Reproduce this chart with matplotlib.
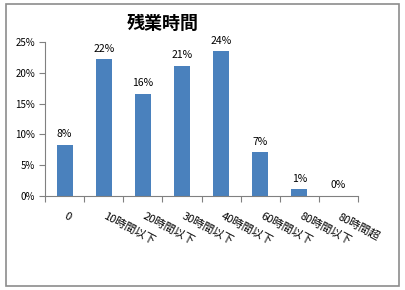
import matplotlib
matplotlib.use("Agg")
import matplotlib.pyplot as plt
import matplotlib.transforms as mtransforms
from matplotlib.patches import Rectangle
import numpy as np

plt.rcParams['font.family'] = ['Noto Sans CJK JP', 'DejaVu Sans']

categories = ['0', '10時間以下', '20時間以下', '30時間以下', '40時間以下',
              '60時間以下', '80時間以下', '80時間超']
values = [8.3, 22.2, 16.6, 21.1, 23.5, 7.1, 1.1, 0.0]
value_labels = ['8%', '22%', '16%', '21%', '24%', '7%', '1%', '0%']
title = '残業時間'


def main():
    fig = plt.figure(figsize=(4.05, 2.9), dpi=100)
    fig.patches.append(Rectangle((6 / 405, 4 / 290), 393 / 405, 282 / 290,
                                 transform=fig.transFigure, fill=False,
                                 edgecolor='#8c8c8c', linewidth=1.2))
    ax = fig.add_axes([45 / 405, 1 - 196 / 290, 313 / 405, 154 / 290])
    x = np.arange(len(categories))
    bars = ax.bar(x, values, width=0.41, color='#4A81BD')

    for b, lab in zip(bars, value_labels):
        ax.annotate(lab, (b.get_x() + b.get_width() / 2, b.get_height()),
                    xytext=(0, 4), textcoords='offset points',
                    ha='center', va='bottom', fontsize=7.5)

    ax.set_xlim(-0.5, len(categories) - 0.5)
    ax.set_ylim(0, 25)
    ax.set_yticks(np.arange(0, 26, 5))
    ax.set_yticklabels([f'{v}%' for v in range(0, 26, 5)], fontsize=7)
    ax.set_xticks(np.arange(-0.5, len(categories), 1.0))
    ax.set_xticklabels([])
    ax.set_xticks(x, minor=True)
    ax.set_xticklabels(categories, minor=True, rotation=-28, ha='left',
                       va='top', rotation_mode='anchor', fontsize=8)
    ax.tick_params(axis='x', which='minor', length=0, pad=11)
    ax.tick_params(axis='x', which='major', length=4, color='#808080')
    ax.tick_params(axis='y', length=4, color='#808080', pad=3)
    for s in ['top', 'right']:
        ax.spines[s].set_visible(False)
    for s in ['left', 'bottom']:
        ax.spines[s].set_color('#808080')
    shift = mtransforms.ScaledTranslation(3 / 100, 0, fig.dpi_scale_trans)
    for lbl in ax.get_xticklabels(minor=True):
        lbl.set_transform(lbl.get_transform() + shift)

    fig.text(163 / 405, 1 - 23 / 290, title, ha='center', va='center',
             fontsize=13, fontweight='bold')
    fig.savefig('out.png', dpi=100)


if __name__ == "__main__":
    main()
